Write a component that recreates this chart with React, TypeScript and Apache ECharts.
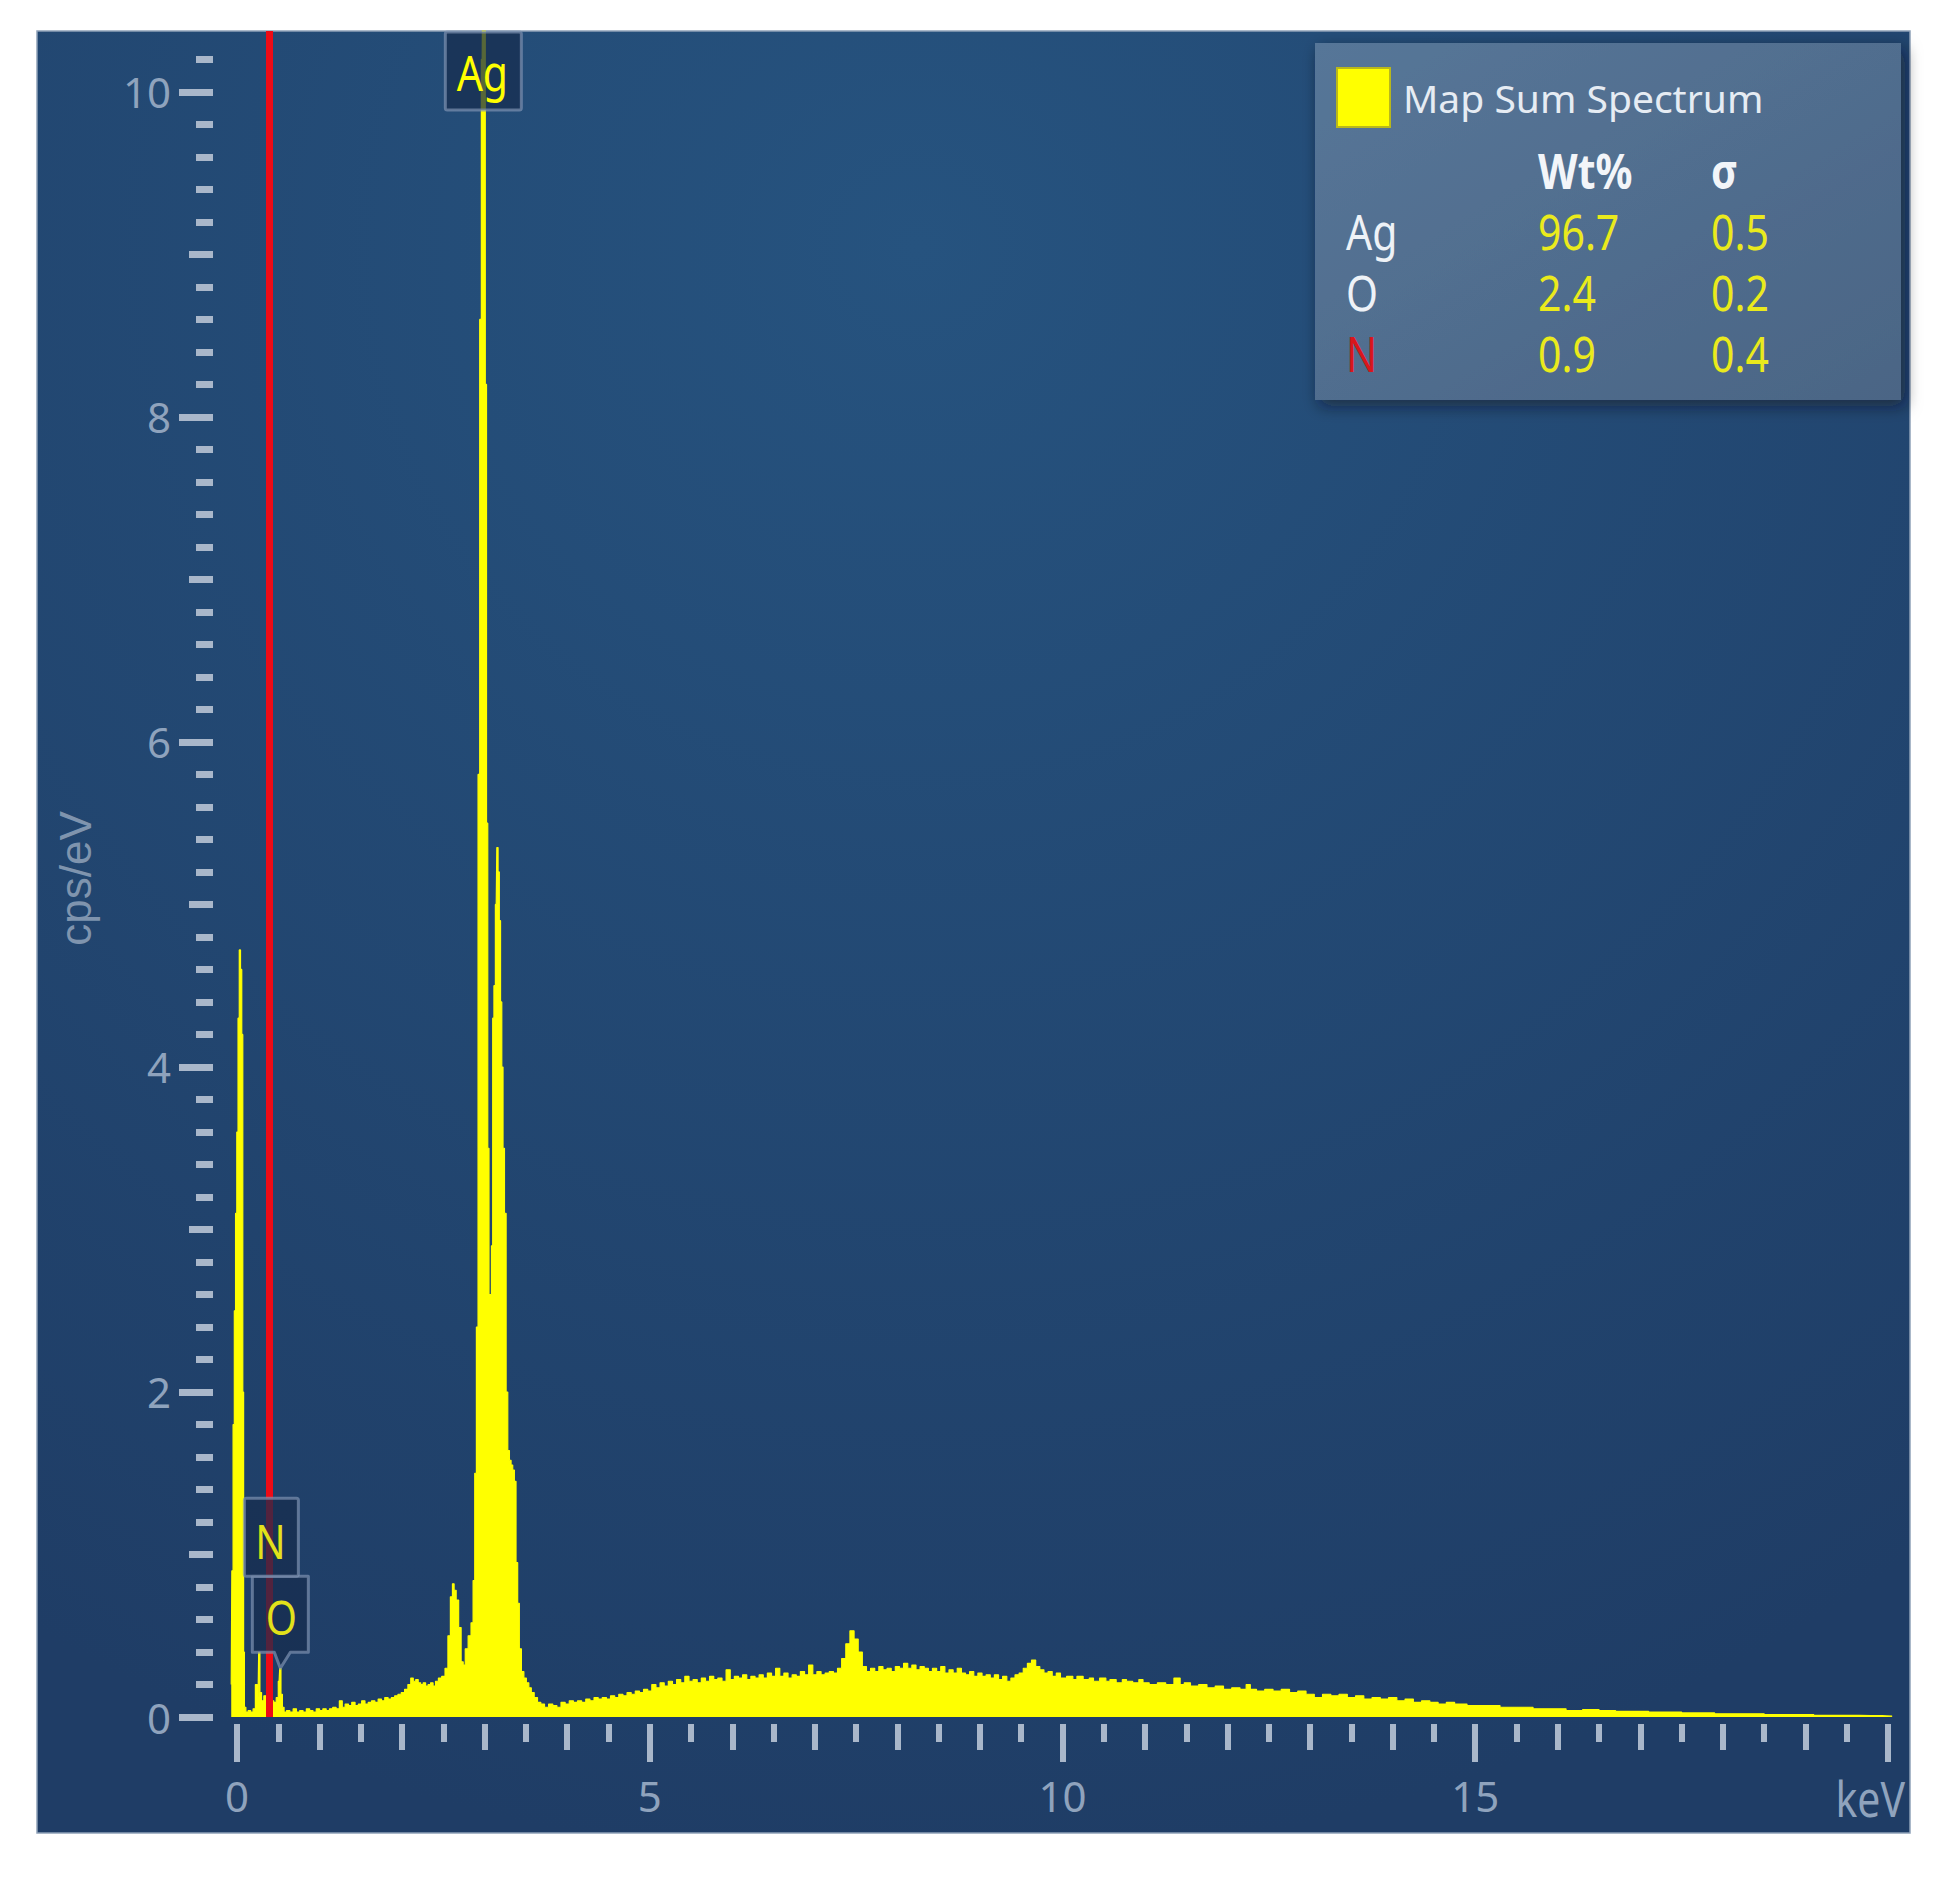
import React, { useEffect, useRef } from "react";
import * as echarts from "echarts";

// ---------------- data ----------------
const spectrumName = "Map Sum Spectrum";

// [energy keV, intensity cps/eV]
const spectrum: [number, number][] = [
  [-0.07, 0.2], [-0.055, 0.9], [-0.04, 1.8], [-0.025, 2.5], [-0.01, 3.1], [0.005, 3.6], [0.02, 4.3], [0.035, 4.72],
  [0.05, 4.6], [0.065, 4.2], [0.075, 2.0], [0.085, 0.4], [0.095, 0.06],
  [0.12, 0.03], [0.15, 0.04], [0.18, 0.03], [0.21, 0.05], [0.235, 0.2], [0.255, 0.12], [0.27, 0.4], [0.285, 0.15],
  [0.31, 0.1], [0.34, 0.13], [0.37, 0.12], [0.4, 0.14], [0.43, 0.1], [0.46, 0.09], [0.49, 0.12], [0.51, 0.22],
  [0.525, 0.3], [0.54, 0.14], [0.56, 0.06], [0.58, 0.03],
  [0.62, 0.04], [0.66, 0.03], [0.7, 0.05], [0.74, 0.03], [0.78, 0.04], [0.82, 0.03], [0.86, 0.05], [0.9, 0.04],
  [0.94, 0.03], [0.98, 0.05], [1.02, 0.04], [1.06, 0.05], [1.1, 0.04], [1.14, 0.05], [1.18, 0.06], [1.22, 0.05],
  [1.26, 0.1], [1.29, 0.06], [1.33, 0.08], [1.37, 0.07], [1.41, 0.09], [1.45, 0.07], [1.49, 0.08], [1.53, 0.1],
  [1.57, 0.08], [1.61, 0.09], [1.65, 0.1], [1.69, 0.09], [1.73, 0.11], [1.77, 0.1], [1.81, 0.12], [1.85, 0.11],
  [1.89, 0.12], [1.93, 0.13], [1.97, 0.14], [2.01, 0.15], [2.05, 0.17], [2.09, 0.2], [2.12, 0.24], [2.15, 0.22],
  [2.18, 0.23], [2.21, 0.21], [2.24, 0.2], [2.27, 0.21], [2.3, 0.19], [2.33, 0.2], [2.36, 0.21], [2.39, 0.19],
  [2.42, 0.22], [2.46, 0.24], [2.5, 0.25], [2.54, 0.3], [2.57, 0.5], [2.6, 0.74], [2.62, 0.82], [2.64, 0.78],
  [2.67, 0.72], [2.7, 0.55], [2.73, 0.34], [2.75, 0.32], [2.78, 0.42], [2.82, 0.5], [2.85, 0.58], [2.87, 0.84],
  [2.89, 1.5], [2.91, 2.4], [2.93, 5.8], [2.95, 8.6], [2.97, 10.2], [2.985, 10.8], [3.0, 10.6], [3.015, 8.2],
  [3.03, 5.5], [3.045, 3.5], [3.06, 2.6], [3.075, 2.6], [3.09, 2.9], [3.105, 4.3], [3.12, 4.5], [3.14, 5.0],
  [3.155, 5.35], [3.17, 5.2], [3.185, 4.9], [3.2, 4.4], [3.215, 4.0], [3.23, 3.5], [3.25, 3.1], [3.27, 2.0],
  [3.29, 1.64], [3.31, 1.58], [3.33, 1.55], [3.35, 1.52], [3.37, 1.45], [3.39, 0.95], [3.41, 0.7], [3.43, 0.42],
  [3.46, 0.28], [3.49, 0.24], [3.52, 0.21], [3.55, 0.18], [3.58, 0.15], [3.62, 0.12], [3.66, 0.09],
  [3.7, 0.08], [3.75, 0.06], [3.8, 0.08], [3.85, 0.07], [3.9, 0.06], [3.95, 0.09], [4.0, 0.08], [4.05, 0.1],
  [4.1, 0.09], [4.15, 0.1], [4.2, 0.09], [4.25, 0.11], [4.3, 0.1], [4.35, 0.12], [4.4, 0.11], [4.45, 0.12],
  [4.5, 0.11], [4.55, 0.13], [4.6, 0.12], [4.65, 0.14], [4.7, 0.13], [4.75, 0.15], [4.8, 0.14], [4.85, 0.16],
  [4.9, 0.15], [4.95, 0.17], [5.0, 0.16], [5.05, 0.2], [5.1, 0.18], [5.15, 0.21], [5.2, 0.19], [5.25, 0.22],
  [5.3, 0.2], [5.35, 0.23], [5.4, 0.21], [5.45, 0.25], [5.5, 0.22], [5.55, 0.23], [5.6, 0.21], [5.65, 0.24],
  [5.7, 0.22], [5.75, 0.25], [5.8, 0.23], [5.85, 0.24], [5.9, 0.22], [5.95, 0.29], [6.0, 0.23], [6.05, 0.25],
  [6.1, 0.24], [6.15, 0.26], [6.2, 0.23], [6.25, 0.25], [6.3, 0.24], [6.35, 0.26], [6.4, 0.24], [6.45, 0.27],
  [6.5, 0.25], [6.55, 0.3], [6.6, 0.25], [6.65, 0.27], [6.7, 0.24], [6.75, 0.26], [6.8, 0.25], [6.85, 0.28],
  [6.9, 0.26], [6.95, 0.32], [7.0, 0.26], [7.05, 0.28], [7.1, 0.26], [7.15, 0.27], [7.2, 0.28], [7.25, 0.27],
  [7.3, 0.3], [7.35, 0.36], [7.4, 0.45], [7.45, 0.53], [7.5, 0.48], [7.55, 0.4], [7.6, 0.31], [7.65, 0.28],
  [7.7, 0.3], [7.75, 0.28], [7.8, 0.31], [7.85, 0.29], [7.9, 0.3], [7.95, 0.28], [8.0, 0.31], [8.05, 0.3],
  [8.1, 0.33], [8.15, 0.3], [8.2, 0.32], [8.25, 0.29], [8.3, 0.31], [8.35, 0.3], [8.4, 0.28], [8.45, 0.3],
  [8.5, 0.28], [8.55, 0.31], [8.6, 0.27], [8.65, 0.29], [8.7, 0.27], [8.75, 0.3], [8.8, 0.27], [8.85, 0.26],
  [8.9, 0.28], [8.95, 0.25], [9.0, 0.27], [9.05, 0.25], [9.1, 0.26], [9.15, 0.24], [9.2, 0.26], [9.25, 0.23],
  [9.3, 0.25], [9.35, 0.22], [9.4, 0.24], [9.45, 0.26], [9.5, 0.27], [9.55, 0.3], [9.6, 0.33], [9.65, 0.35],
  [9.7, 0.31], [9.75, 0.29], [9.8, 0.27], [9.85, 0.28], [9.9, 0.25], [9.95, 0.27], [10.0, 0.24], [10.1, 0.25],
  [10.15, 0.23], [10.2, 0.25], [10.3, 0.23], [10.35, 0.24], [10.4, 0.22], [10.5, 0.24], [10.55, 0.22],
  [10.6, 0.23], [10.7, 0.21], [10.75, 0.23], [10.8, 0.22], [10.9, 0.21], [10.95, 0.23], [11.0, 0.21],
  [11.1, 0.2], [11.2, 0.21], [11.3, 0.2], [11.4, 0.24], [11.45, 0.2], [11.5, 0.21], [11.6, 0.19], [11.7, 0.2],
  [11.8, 0.18], [11.9, 0.19], [12.0, 0.17], [12.1, 0.18], [12.2, 0.17], [12.25, 0.2], [12.3, 0.17],
  [12.4, 0.16], [12.5, 0.17], [12.6, 0.16], [12.7, 0.17], [12.8, 0.15], [12.9, 0.16], [13.0, 0.14],
  [13.1, 0.12], [13.2, 0.14], [13.3, 0.13], [13.4, 0.14], [13.5, 0.12], [13.6, 0.13], [13.7, 0.11],
  [13.8, 0.12], [13.9, 0.11], [14.0, 0.12], [14.1, 0.1], [14.2, 0.11], [14.3, 0.09], [14.4, 0.1],
  [14.5, 0.09], [14.6, 0.08], [14.7, 0.09], [14.8, 0.08], [15.0, 0.07], [15.2, 0.07], [15.4, 0.06],
  [15.6, 0.06], [15.8, 0.05], [16.0, 0.05], [16.2, 0.04], [16.4, 0.045], [16.6, 0.04], [16.8, 0.035],
  [17.0, 0.035], [17.2, 0.03], [17.4, 0.03], [17.6, 0.025], [17.8, 0.025], [18.0, 0.02], [18.2, 0.02],
  [18.4, 0.02], [18.6, 0.015], [18.8, 0.015], [19.0, 0.015], [19.2, 0.01], [19.5, 0.01], [19.8, 0.008],
  [20.05, 0.005],
];

// identified element lines (keV)
const peakElements = ["Ag", "N", "O"];
const peakEnergies = [2.984, 0.392, 0.525];
const highlightedElement = "N";

// quantification table
const quantHeader = ["Wt%", "σ"];
const quantElements = ["Ag", "O", "N"];
const quantWt = ["96.7", "2.4", "0.9"];
const quantSigma = ["0.5", "0.2", "0.4"];

// axes
const xLabelValues = [0, 5, 10, 15];
const xUnit = "keV";
const yLabelValues = [0, 2, 4, 6, 8, 10];
const yTitle = "cps/eV";

// ---------------- layout / style ----------------
const W = 1955;
const H = 1886;
const X_MIN = -0.08;
const X_MAX = 20.08;
const Y_MAX = 10.375;
const GRID = { left: 230.4, right: 60.4, top: 31, bottom: 169 };
const PANEL = { x: 37, y: 31, w: 1873, h: 1802 };
const FONT = "'Noto Sans', 'Open Sans', sans-serif";
const TICK_COLOR = "#a9b7ca";
const LABEL_COLOR = "#8fa3bd";
const YELLOW = "#ffff00";
const TXT_SCALE_Y = 1.2;

const round = (v: number) => Math.round(v * 1000) / 1000;
const xMajor: number[] = [];
const xMid: number[] = [];
const xMinor: number[] = [];
for (let k = 0; k <= 40; k++) {
  const v = round(k / 2);
  if (k % 10 === 0) xMajor.push(v);
  else if (k % 2 === 0) xMid.push(v);
  else xMinor.push(v);
}
const yMajor: number[] = [];
const yMid: number[] = [];
const yMinor: number[] = [];
for (let k = 0; k <= 51; k++) {
  const v = round(k / 5);
  if (k % 10 === 0) yMajor.push(v);
  else if (k % 5 === 0) yMid.push(v);
  else yMinor.push(v);
}

function xAxisDef(ticks: number[], len: number, labels: boolean) {
  return {
    type: "value",
    gridIndex: 0,
    min: X_MIN,
    max: X_MAX,
    position: "bottom",
    offset: 7,
    axisLine: { show: false, onZero: false },
    splitLine: { show: false },
    axisTick: { show: true, length: len, customValues: ticks, lineStyle: { color: TICK_COLOR, width: 6 } },
    axisLabel: labels
      ? { show: true, customValues: xLabelValues, margin: 50, color: LABEL_COLOR, fontSize: 42, fontFamily: FONT }
      : { show: false },
  };
}

function yAxisDef(ticks: number[], len: number, labels: boolean) {
  return {
    type: "value",
    gridIndex: 0,
    min: 0,
    max: Y_MAX,
    position: "left",
    offset: 17.4,
    axisLine: { show: false, onZero: false },
    splitLine: { show: false },
    axisTick: { show: true, length: len, customValues: ticks, lineStyle: { color: TICK_COLOR, width: 7 } },
    axisLabel: labels
      ? { show: true, customValues: yLabelValues, margin: 42, color: LABEL_COLOR, fontSize: 42, fontFamily: FONT }
      : { show: false },
  };
}

export default function App() {
  const ref = useRef<HTMLDivElement>(null);

  useEffect(() => {
    document.body.style.margin = "0";
    document.body.style.overflow = "hidden";
    const chart = echarts.init(ref.current!, null, { renderer: "svg", width: W, height: H });
    const hlIdx = peakElements.indexOf(highlightedElement);

    chart.setOption({
      animation: false,
      grid: { ...GRID, containLabel: false },
      xAxis: [xAxisDef(xMajor, 38, true), xAxisDef(xMid, 26, false), xAxisDef(xMinor, 18, false)],
      yAxis: [yAxisDef(yMajor, 34, true), yAxisDef(yMid, 24, false), yAxisDef(yMinor, 17, false)],
      legend: {
        show: true,
        left: 1331,
        top: 62,
        icon: "rect",
        itemWidth: 53,
        itemHeight: 59,
        selectedMode: false,
        data: [spectrumName],
        itemStyle: { color: YELLOW, borderColor: "#b9b81a", borderWidth: 2 },
        textStyle: { color: "#e6ecf3", fontSize: 39, fontFamily: FONT, padding: [0, 0, 0, 8] },
        z: 20,
      },
      series: [
        {
          type: "line",
          name: spectrumName,
          data: spectrum,
          xAxisIndex: 0,
          yAxisIndex: 0,
          symbol: "none",
          showSymbol: false,
          step: "middle",
          clip: true,
          silent: true,
          itemStyle: { color: YELLOW },
          lineStyle: { color: YELLOW, width: 1.2 },
          areaStyle: { color: YELLOW, opacity: 1 },
          markLine: {
            silent: true,
            symbol: ["none", "none"],
            label: { show: false },
            lineStyle: { color: "#ee0b16", width: 7, type: "solid" },
            data: [{ xAxis: peakEnergies[hlIdx] }],
          },
        },
      ],
    });

    const px = (x: number, y: number) => chart.convertToPixel({ xAxisIndex: 0, yAxisIndex: 0 }, [x, y]) as number[];
    const peakValue = (e: number) => {
      let m = 0;
      for (const [x, y] of spectrum) if (Math.abs(x - e) <= 0.03) m = Math.max(m, y);
      return m;
    };

    const boxFill = "rgba(22,44,78,0.72)";
    const boxStroke = "rgba(125,146,176,0.7)";
    const els: any[] = [];
    const txt = (
      text: string,
      x: number,
      y: number,
      fill: string,
      size: number,
      opts: { bold?: boolean; align?: string; z?: number; scaleY?: number } = {}
    ) => ({
      type: "text",
      z: opts.z ?? 21,
      x,
      y,
      scaleY: opts.scaleY ?? TXT_SCALE_Y,
      style: {
        text,
        x: 0,
        y: 0,
        fill,
        font: `${opts.bold ? "bold " : ""}${size}px ${FONT}`,
        align: opts.align ?? "left",
        verticalAlign: "middle",
      },
    });

    // panel background
    els.push({
      type: "rect",
      z: -10,
      shape: { x: PANEL.x, y: PANEL.y, width: PANEL.w, height: PANEL.h },
      style: {
        fill: {
          type: "radial",
          x: 0.47,
          y: 0.12,
          r: 0.9,
          colorStops: [
            { offset: 0, color: "#26537f" },
            { offset: 1, color: "#1f3d66" },
          ],
        },
        stroke: "#8fa1b8",
        lineWidth: 1.5,
      },
    });

    // legend / quant panel
    els.push({
      type: "rect",
      z: 5,
      shape: { x: 1315, y: 43, width: 586, height: 357 },
      style: {
        fill: {
          type: "linear",
          x: 0,
          y: 0,
          x2: 1,
          y2: 1,
          colorStops: [
            { offset: 0, color: "#567698" },
            { offset: 1, color: "#4b6585" },
          ],
        },
        shadowBlur: 16,
        shadowColor: "rgba(8,18,36,0.55)",
        shadowOffsetX: 4,
        shadowOffsetY: 6,
      },
    });
    const colX = [1346, 1538, 1711];
    quantHeader.forEach((h, i) => {
      els.push(txt(h, colX[i + 1], 170, "#f2f5f9", 41, { bold: true }));
    });
    quantElements.forEach((el, i) => {
      const y = 231 + i * 61;
      els.push(txt(el, colX[0], y, el === highlightedElement ? "#d9161c" : "#eef2f7", 41));
      els.push(txt(quantWt[i], colX[1], y, "#eaea1c", 41));
      els.push(txt(quantSigma[i], colX[2], y, "#eaea1c", 41));
    });

    // axis titles
    const [x20, yBase] = px(20, 0);
    els.push(txt(xUnit, x20 + 17, yBase + 81, LABEL_COLOR, 41, { align: "right", z: 6 }));
    const [, yMidPx] = px(0, 5.16);
    els.push({
      type: "text",
      z: 6,
      x: 75,
      y: yMidPx,
      rotation: Math.PI / 2,
      style: {
        text: yTitle,
        x: 0,
        y: 0,
        fill: "#7f94ae",
        font: "44px 'Liberation Sans', 'Noto Sans', sans-serif",
        align: "center",
        verticalAlign: "middle",
      },
    });

    // element label boxes
    const agIdx = peakElements.indexOf("Ag");
    const oIdx = peakElements.indexOf("O");
    const nIdx = peakElements.indexOf("N");
    const [agX] = px(peakEnergies[agIdx], 0);
    const agTop = GRID.top + 1;
    els.push({
      type: "rect",
      z: 10,
      shape: { x: agX - 38, y: agTop, width: 76, height: 78, r: 2 },
      style: { fill: boxFill, stroke: boxStroke, lineWidth: 3 },
    });
    els.push(txt(peakElements[agIdx], agX - 1, agTop + 40, YELLOW, 41, { align: "center", z: 11 }));

    const [oX, oTip] = px(peakEnergies[oIdx], peakValue(peakEnergies[oIdx]));
    const oBottom = oTip - 16;
    const oTop = oBottom - 76;
    els.push({
      type: "polygon",
      z: 10,
      shape: {
        points: [
          [oX - 28, oTop],
          [oX + 28, oTop],
          [oX + 28, oBottom],
          [oX + 10, oBottom],
          [oX, oTip],
          [oX - 6, oBottom],
          [oX - 28, oBottom],
        ],
      },
      style: { fill: boxFill, stroke: boxStroke, lineWidth: 3, lineJoin: "round" },
    });
    els.push(txt(peakElements[oIdx], oX + 1, (oTop + oBottom) / 2 + 2, "#e2e21a", 40, { align: "center", z: 11 }));

    const [nX] = px(peakEnergies[nIdx], 0);
    const nBottom = oTop;
    const nTop = nBottom - 78;
    els.push({
      type: "rect",
      z: 10,
      shape: { x: nX - 25, y: nTop, width: 54, height: 78, r: 2 },
      style: { fill: boxFill, stroke: boxStroke, lineWidth: 3 },
    });
    els.push(txt(peakElements[nIdx], nX + 1, (nTop + nBottom) / 2 + 3, "#e2e21a", 40, { align: "center", z: 11 }));

    chart.setOption({ graphic: { elements: els } });

    return () => chart.dispose();
  }, []);

  return <div ref={ref} style={{ width: W, height: H }} />;
}
